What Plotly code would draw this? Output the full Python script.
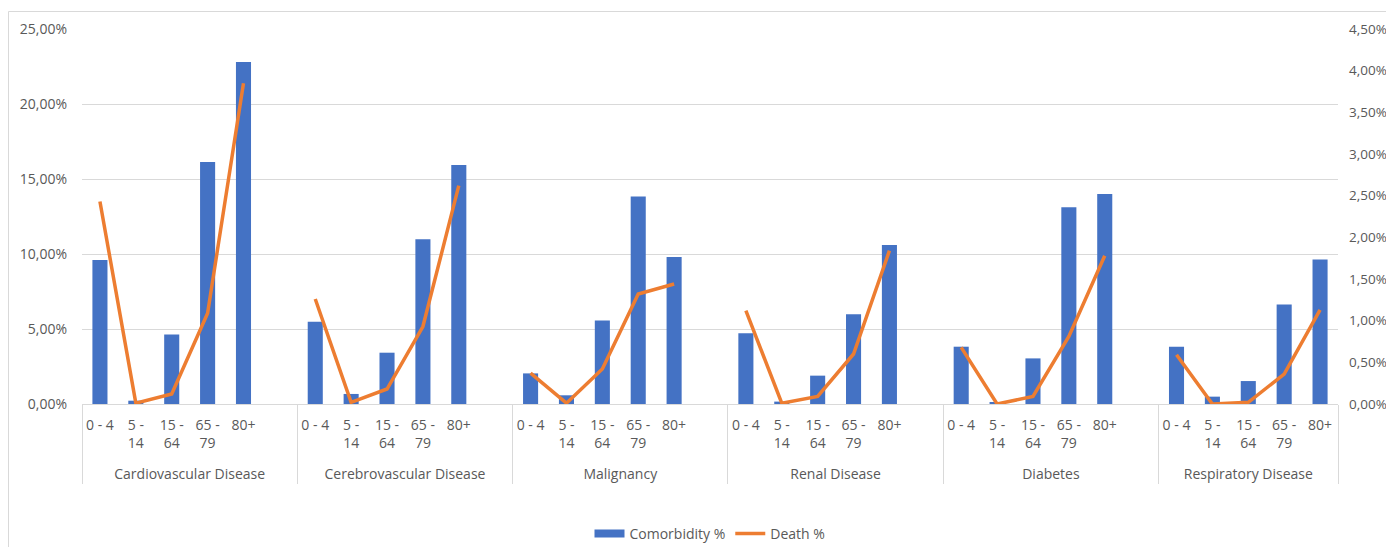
import plotly.graph_objects as go

diseases = ["Cardiovascular Disease", "Cerebrovascular Disease", "Malignancy",
            "Renal Disease", "Diabetes", "Respiratory Disease"]
age_groups = ["0 - 4", "5 -<br>14", "15 -<br>64", "65 -<br>79", "80+"]

# Comorbidity % (left axis), per disease, per age group
comorbidity = [
    [0.0960, 0.0022, 0.0464, 0.1613, 0.2280],
    [0.0549, 0.0067, 0.0342, 0.1098, 0.1593],
    [0.0204, 0.0058, 0.0556, 0.1384, 0.0980],
    [0.0471, 0.0016, 0.0189, 0.0598, 0.1060],
    [0.0382, 0.0011, 0.0304, 0.1311, 0.1400],
    [0.0382, 0.0049, 0.0153, 0.0664, 0.0964],
]
# Death % (right axis)
death = [
    [0.0243, 0.0001, 0.0012, 0.0109, 0.0385],
    [0.0126, 0.0002, 0.0018, 0.0093, 0.0262],
    [0.0037, 0.0001, 0.0042, 0.0132, 0.0144],
    [0.0112, 0.0001, 0.0009, 0.0060, 0.0184],
    [0.0068, 0.0000, 0.0009, 0.0081, 0.0178],
    [0.0059, 0.0000, 0.0002, 0.0036, 0.0113],
]

# Build multicategory x with a blank slot after each group except the last.
# Group labels get a leading line break so they sit lower, as in Excel.
xg, xa, yc, yd = [], [], [], []
for i, d in enumerate(diseases):
    glabel = "<br>" + d
    for j, a in enumerate(age_groups):
        xg.append(glabel); xa.append(a)
        yc.append(comorbidity[i][j]); yd.append(death[i][j])
    if i < len(diseases) - 1:
        xg.append(glabel); xa.append(" ")
        yc.append(None); yd.append(None)

blue = "#4472C4"
orange = "#ED7D31"
grid = "#D9D9D9"
txt = "#595959"
font = "Open Sans"
fs = 14

fig = go.Figure()
fig.add_trace(go.Bar(x=[xg, xa], y=yc, name="Comorbidity %", marker_color=blue,
                     marker_line_width=0, yaxis="y", showlegend=False,
                     legendgroup="c"))
# legend key drawn as a wide bar-coloured swatch (Excel style)
fig.add_trace(go.Scatter(x=[[xg[0]], [xa[0]]], y=[None],
                         name="Comorbidity %", mode="lines", legendgroup="c",
                         line=dict(color=blue, width=8), yaxis="y",
                         hoverinfo="skip"))
fig.add_trace(go.Scatter(x=[xg, xa], y=yd, name="Death %", mode="lines",
                         line=dict(color=orange, width=3.5), connectgaps=False,
                         yaxis="y2"))

# page body has an 8px margin on every side: make the figure fit the window
OFF = 8
W, H = 1394 - 2 * OFF, 555 - 2 * OFF
L, R, T, B = 82 - OFF, 1338 - OFF, 29 - OFF, 404 - OFF
LEG_Y = 534 - OFF
fig.update_layout(
    width=W, height=H,
    margin=dict(l=L, r=W - R, t=T, b=H - B, pad=0, autoexpand=False),
    paper_bgcolor="white", plot_bgcolor="white",
    separators=",.",
    bargap=0.58,
    font=dict(family=font, size=fs, color=txt),
    showlegend=True,
    legend=dict(orientation="h", x=0.5, xanchor="center",
                yref="container", y=(H - LEG_Y) / H, yanchor="middle",
                font=dict(size=fs, color=txt), traceorder="normal"),
    xaxis=dict(type="multicategory", showgrid=False, showline=True, linecolor=grid,
               linewidth=1, ticks="", ticklabelstandoff=8,
               tickangle=0, showdividers=True, dividercolor=grid,
               dividerwidth=1, tickfont=dict(size=fs, color=txt), automargin=False),
    yaxis=dict(range=[0, 0.25], dtick=0.05, tickformat=".2%", showgrid=True,
               gridcolor=grid, gridwidth=1, zeroline=False, showline=False,
               ticks="", ticklabelstandoff=14, tickfont=dict(size=fs, color=txt),
               automargin=False),
    yaxis2=dict(range=[0, 0.045], dtick=0.005, tickformat=".2%", overlaying="y",
                side="right", showgrid=False, zeroline=False, showline=False,
                ticks="", ticklabelstandoff=10, tickfont=dict(size=fs - 0.5, color=txt),
                automargin=False),
)

# outer chart border (Excel chart area)
pw, ph = R - L, B - T
fig.add_shape(type="rect", xref="paper", yref="paper",
              x0=(0.5 - L) / pw, x1=(W + 5 - L) / pw,
              y0=(B - (H + 5)) / ph, y1=(B - 3.5) / ph,
              line=dict(color=grid, width=1), fillcolor="rgba(0,0,0,0)", layer="below")

fig.write_html("out.html")
